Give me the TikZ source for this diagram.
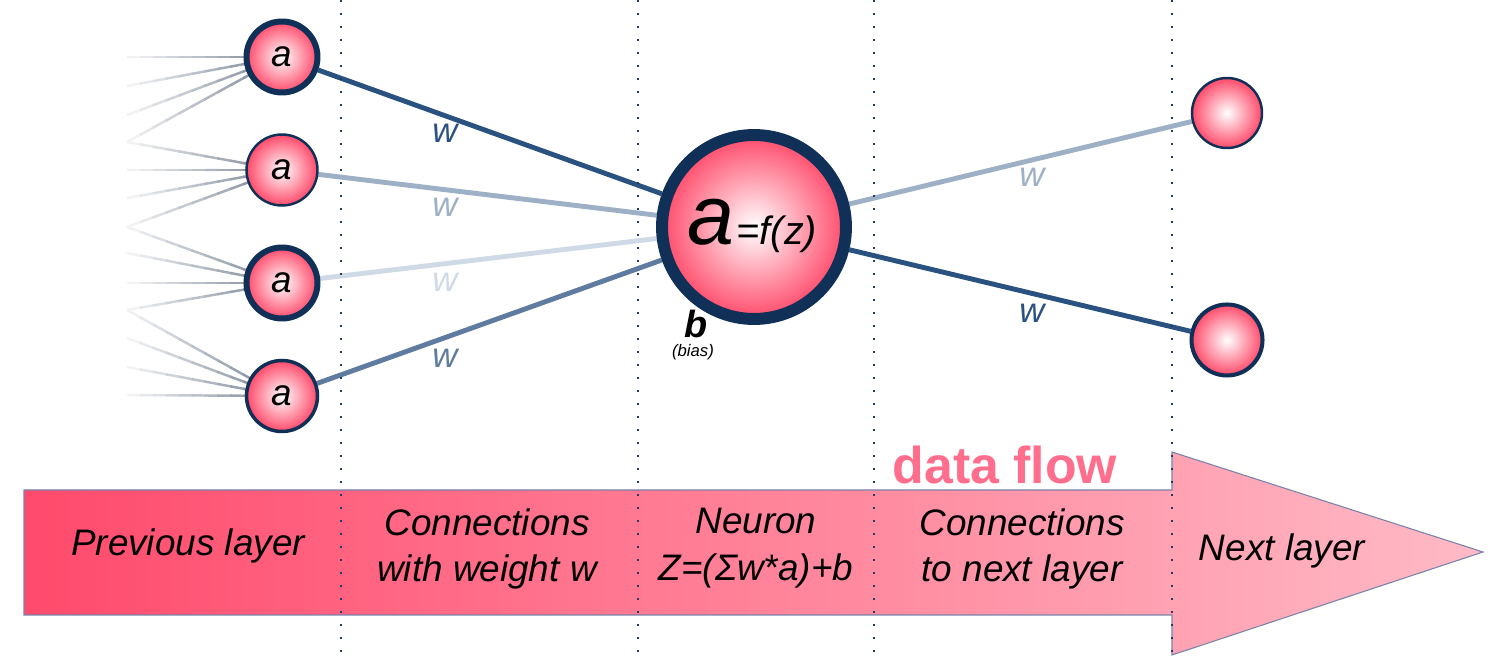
\documentclass[tikz,border=0pt]{standalone}
\usepackage{fontspec}
\setmainfont{Liberation Sans}
\usetikzlibrary{backgrounds,calc}
\usetikzlibrary{positioning}

\definecolor{rimnavy}{RGB}{16,48,88}
\definecolor{cellpink}{RGB}{255,74,106}
\definecolor{wdark}{RGB}{42,82,128}
\definecolor{wmid}{RGB}{95,124,160}
\definecolor{wlight}{RGB}{157,176,198}
\definecolor{wpale}{RGB}{208,218,230}
\definecolor{fangray}{RGB}{110,122,140}
\definecolor{flowleft}{RGB}{255,74,108}
\definecolor{flowright}{RGB}{255,186,198}
\definecolor{flowedge}{RGB}{120,130,170}
\definecolor{flowtext}{RGB}{255,110,140}
\definecolor{dotblue}{RGB}{30,60,100}

\begin{document}
\begin{tikzpicture}[x=0.02cm, y=-0.02cm,
		neuron/.style={circle, draw=rimnavy, line width=1.4pt, minimum size=1.42cm, inner sep=0pt,
			inner color=white, outer color=cellpink, font=\itshape\fontsize{21}{21}\selectfont},
		wire/.style={line width=2.8pt},
		fan/.style={line width=1.4pt},
		wlbl/.style={font=\itshape\fontsize{19.8}{20}\selectfont},
		layerlbl/.style={font=\itshape\fontsize{21}{26.6}\selectfont, align=center},
		sep/.style={draw=dotblue, line width=1.2pt, dash pattern=on 1.2pt off 6.2pt}]

		\useasboundingbox (0,0) rectangle (1512,661);

		% === Neurons ===
		\node[neuron, line width=3.4pt] (in1) at (282,57)  {a};
		\node[neuron]                   (in2) at (282,170) {a};
		\node[neuron, line width=3.4pt] (in3) at (282,283) {a};
		\node[neuron, line width=2pt]   (in4) at (282,396) {a};
		\node[neuron, minimum size=3.68cm, line width=6.8pt] (hid) at (754,227) {};
		\node[neuron, minimum size=1.4cm] (out1) at (1227,113) {};
		\node[neuron, line width=2.3pt]   (out2) at (1227,340) {};

		% === Connections ===
		\begin{scope}[on background layer]
			\foreach \n/\ys in {in1/{57,86,115,142}, in2/{142,170,198,227},
					in3/{227,253,283,310}, in4/{310,338,367,395}} {
				\foreach \y in \ys {
					\coordinate (f\y) at (127,\y);
					\foreach \k in {0,...,11} {	% fade towards the left
						\pgfmathsetmacro\ta{\k/12}
						\pgfmathsetmacro\tb{(\k+1)/12+0.01}
						\pgfmathsetmacro\p{6+90*(\k+0.5)/12}
						\draw[fan, fangray!\p!white] ($(f\y)!\ta!(\n)$) -- ($(f\y)!\tb!(\n)$);
					}
				}
			}
			\draw[wire, wdark]  (in1) -- (hid);
			\draw[wire, wlight] (in2) -- (hid);
			\draw[wire, wpale]  (in3) -- (hid);
			\draw[wire, wmid]   (in4) -- (hid);
			\draw[wire, wlight] (hid) -- (out1);
			\draw[wire, wdark]  (hid) -- (out2);
		\end{scope}

		% === Weights and neuron labels ===
		\node[wlbl, wdark]  (w1) at (445,133) {w};
		\node[wlbl, wlight] (w2) at (445,207) {w};
		\node[wlbl, wpale]  (w3) at (445,282) {w};
		\node[wlbl, wmid]   (w4) at (445,358) {w};
		\node[wlbl, wlight] (w5) at (1032,177) {w};
		\node[wlbl, wdark]  (w6) at (1032,313) {w};
		\node[anchor=base, font=\itshape] (act) at (752,245)
			{{\fontsize{48}{48}\selectfont a}\,{\fontsize{22.5}{23}\selectfont =f(z)}};
		\node[font=\bfseries\itshape\fontsize{21.5}{22}\selectfont] (bias) at (696,324) {b};
		\node[font=\itshape\fontsize{9.5}{10}\selectfont] (biasnote) at (693,352) {(bias)};

		% === Data flow arrow ===
		\draw[draw=flowedge, line width=0.6pt, left color=flowleft, right color=flowright]
			(24,490) -- (1172,490) -- (1172,452) -- (1483,552) -- (1172,655)
			-- (1172,615) -- (24,615) -- cycle;
		\node[font=\bfseries\fontsize{29.5}{30}\selectfont, flowtext] (flow) at (1005,465) {data flow};

		% === Separators ===
		\foreach \x/\nm in {341/s1, 638/s2, 874/s3, 1172/s4} {
			\coordinate (\nm t) at (\x,0);
			\coordinate (\nm b) at (\x,655);
			\draw[sep] (\nm t) -- (\nm b);
		}

		% === Layer captions ===
		\node[layerlbl] (prev) at (188,546)  {Previous layer};
		\node[layerlbl] (conw) at (487,549)  {Connections\\with weight w};
		\node[layerlbl] (neur) at (756,548)  {Neuron\\Z=(Σw*a)+b};
		\node[layerlbl] (conn) at (1022,549) {Connections\\to next layer};
		\node[layerlbl] (next) at (1282,551) {Next layer};
	\end{tikzpicture}
\end{document}
